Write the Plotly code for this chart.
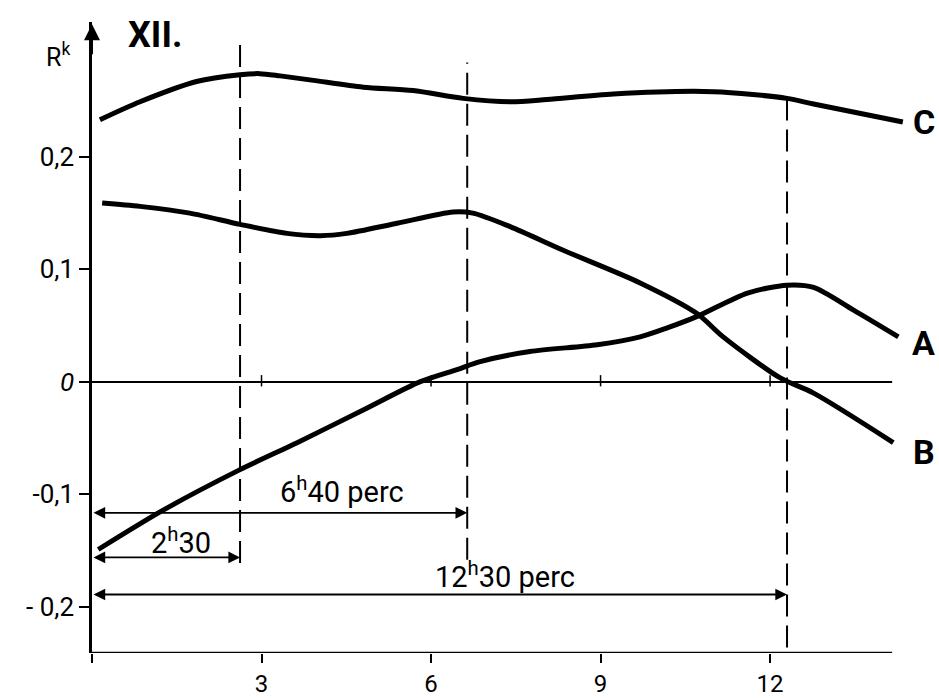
import plotly.graph_objects as go

# ---- data ----
x_A = [0.11, 1.26, 2.62, 3.63, 4.8, 5.8, 6.46, 6.87, 7.75, 8.94, 9.7, 10.18, 10.7, 11.6, 12.3, 12.77, 13.47, 14.27]
y_A = [-0.149, -0.114, -0.078, -0.054, -0.025, 0.0, 0.011, 0.018, 0.027, 0.033, 0.040, 0.048, 0.058, 0.079, 0.086, 0.084, 0.064, 0.040]

x_B = [0.18, 0.85, 1.73, 2.62, 3.45, 4.04, 4.51, 5.4, 6.39, 6.74, 7.4, 8.34, 9.7, 10.7, 11.17, 12.18, 12.77, 14.18]
y_B = [0.159, 0.156, 0.150, 0.140, 0.132, 0.130, 0.132, 0.141, 0.151, 0.150, 0.138, 0.117, 0.088, 0.061, 0.040, 0.0035, -0.010, -0.054]

x_C = [0.14, 0.85, 1.85, 2.62, 2.97, 3.33, 3.92, 4.8, 5.68, 6.57, 7.4, 8.05, 9.23, 11.0, 12.3, 12.77, 14.35]
y_C = [0.233, 0.249, 0.267, 0.273, 0.274, 0.272, 0.268, 0.262, 0.259, 0.252, 0.249, 0.251, 0.256, 0.258, 0.252, 0.247, 0.231]

series_names = ["A", "B", "C"]
label_y = [0.035, -0.062, 0.231]

x_ticks = [0, 3, 6, 9, 12]
x_ticktext = ["", "3", "6", "9", "12"]
y_ticks = [-0.2, -0.1, 0, 0.1, 0.2]
y_ticktext = ["- 0,2", "-0,1", "<i>0</i>", "0,1", "0,2"]

# marked times (dashed verticals) and their span arrows
mark_x = [2.62, 6.64, 12.3]
mark_top = [0.300, 0.284, 0.252]
mark_bottom = [-0.161, -0.158, -0.236]
arrow_y = [-0.156, -0.1164, -0.189]
arrow_text = ["2<sup>h</sup>30", "6<sup>h</sup>40 perc", "12<sup>h</sup>30 perc"]
text_pos = [(1.58, -0.141), (4.42, -0.096), (7.31, -0.172)]

axis_end_x = 14.16
x_range = [0, 14.6]
y_range = [-0.241, 0.3199]

FONT = "Roboto, DejaVu Sans, sans-serif"


def px(x):
    return (x - x_range[0]) / (x_range[1] - x_range[0])


def py(y):
    return (y - y_range[0]) / (y_range[1] - y_range[0])


fig = go.Figure()
for xs, ys, nm in zip([x_A, x_B, x_C], [y_A, y_B, y_C], series_names):
    fig.add_trace(go.Scatter(x=xs, y=ys, mode="lines", name=nm,
                             line=dict(color="black", width=5, shape="spline", smoothing=0.8),
                             showlegend=False, hoverinfo="skip"))

shapes = []
# bottom axis and zero line
shapes.append(dict(type="line", xref="x", yref="y", x0=0, x1=axis_end_x, y0=y_range[0], y1=y_range[0],
                   line=dict(color="black", width=2.5)))
shapes.append(dict(type="line", xref="x", yref="y", x0=0, x1=axis_end_x, y0=0, y1=0,
                   line=dict(color="black", width=2)))
# small ticks on zero line
for t in x_ticks[1:]:
    shapes.append(dict(type="line", xref="x", yref="y", x0=t, x1=t, y0=-0.004, y1=0.006,
                       line=dict(color="black", width=1.5)))
# dashed verticals
for mx, mt, mb in zip(mark_x, mark_top, mark_bottom):
    shapes.append(dict(type="line", xref="x", yref="y", x0=mx, x1=mx, y0=mb, y1=mt,
                       line=dict(color="black", width=2, dash="22px,9px")))

annotations = []
# y-axis arrow head
annotations.append(dict(x=0, y=0.318, ax=0, ay=0.29, xref="x", yref="y", axref="x", ayref="y",
                        showarrow=True, arrowhead=2, arrowsize=1.6, arrowwidth=2, arrowcolor="black", text=""))
# span arrows
for mx, ay in zip(mark_x, arrow_y):
    annotations.append(dict(x=mx, y=ay, ax=0, ay=ay, xref="x", yref="y", axref="x", ayref="y",
                            showarrow=True, arrowhead=2, startarrowhead=2, arrowside="end+start",
                            arrowsize=1.3, startarrowsize=1.3, arrowwidth=1.8, arrowcolor="black", text=""))
for (tx, ty), txt in zip(text_pos, arrow_text):
    annotations.append(dict(x=tx, y=ty, xref="x", yref="y", text=txt, showarrow=False,
                            font=dict(family=FONT, size=29, color="black")))
# series labels (outside the plot area -> paper coordinates)
for nm, ly in zip(series_names, label_y):
    annotations.append(dict(x=px(14.72), y=py(ly), xref="paper", yref="paper", text="<b>" + nm + "</b>",
                            showarrow=False, xanchor="center", yanchor="middle",
                            font=dict(family=FONT, size=34, color="black")))
# title and axis name
annotations.append(dict(x=1.12, y=0.308, xref="x", yref="y", text="<b>XII.</b>", showarrow=False,
                        font=dict(family=FONT, size=36, color="black")))
annotations.append(dict(x=px(-0.6), y=py(0.290), xref="paper", yref="paper", text="R<sup>k</sup>",
                        showarrow=False, xanchor="center", yanchor="middle",
                        font=dict(family=FONT, size=25, color="black")))

fig.update_layout(
    width=939, height=698,
    margin=dict(l=92, r=22, t=22, b=45, autoexpand=False),
    paper_bgcolor="white", plot_bgcolor="white",
    shapes=shapes, annotations=annotations,
    xaxis=dict(range=x_range, tickvals=x_ticks, ticktext=x_ticktext, ticks="outside", ticklen=9,
               tickwidth=2, tickcolor="black", showgrid=False, zeroline=False, showline=False,
               automargin=False, ticklabelstandoff=0,
               tickfont=dict(family=FONT, size=24, color="black"), fixedrange=True),
    yaxis=dict(range=y_range, tickvals=y_ticks, ticktext=y_ticktext, ticks="outside", ticklen=10,
               tickwidth=2, tickcolor="black", showgrid=False, zeroline=False, showline=True,
               linecolor="black", linewidth=2.5, automargin=False,
               tickfont=dict(family=FONT, size=26, color="black"), fixedrange=True),
)

fig.write_html("out.html", config={"displayModeBar": False},
               post_script="document.body.style.margin='0';document.body.style.padding='0';")
